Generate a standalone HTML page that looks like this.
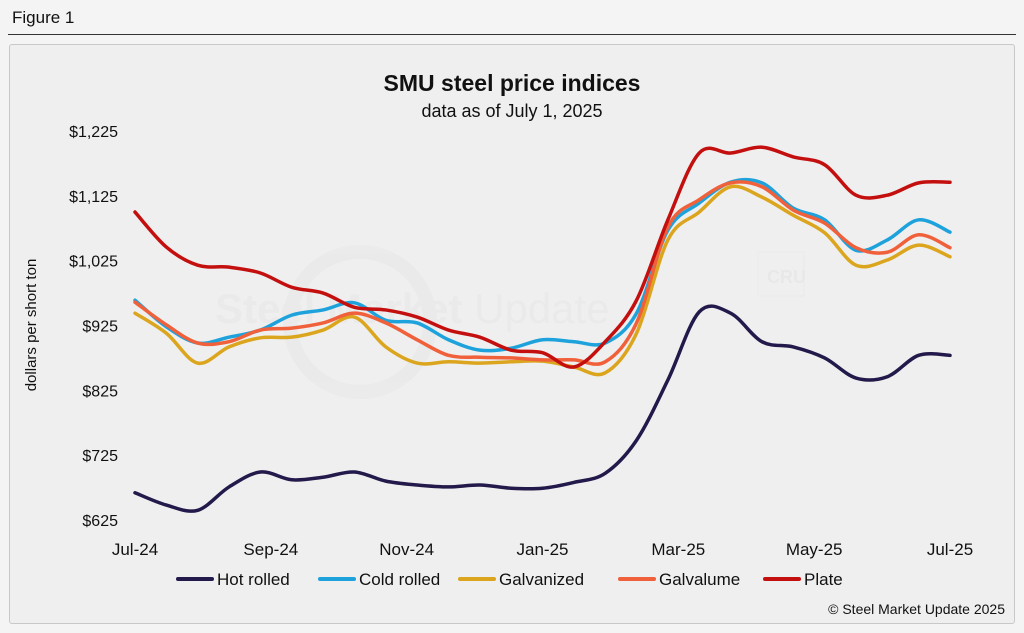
<!DOCTYPE html>
<html><head><meta charset="utf-8">
<style>
body{margin:0;width:1024px;height:633px;background:#f4f4f4;font-family:"Liberation Sans",Arial,sans-serif;overflow:hidden;position:relative}
#fig{position:absolute;left:12px;top:8px;font-size:17px;color:#111}
#rule{position:absolute;left:8px;top:34px;width:1008px;height:1px;background:#333}
#panel{position:absolute;left:9px;top:44px;width:1004px;height:578px;background:#efefef;border:1px solid #c8c8c8;border-radius:3px}
svg{position:absolute;left:0;top:0}
</style></head><body>
<div id="fig">Figure 1</div>
<div id="rule"></div>
<div id="panel"></div>
<svg id="chart" width="1024" height="633">
<g opacity="0.3">
<circle cx="360" cy="322" r="70" fill="none" stroke="#e0e0e0" stroke-width="14"/>
<text x="215" y="323" font-size="42" font-weight="bold" fill="#e0e0e0">Steel Market <tspan font-weight="normal">Update</tspan></text>
<rect x="758" y="252" width="46" height="44" fill="none" stroke="#e0e0e0"/>
<text x="767" y="283" font-size="18" font-weight="bold" fill="#dadada">CRU</text>
</g>
<text x="512" y="91" text-anchor="middle" font-size="23" font-weight="bold" fill="#111">SMU steel price indices</text>
<text x="512" y="117" text-anchor="middle" font-size="18" fill="#111">data as of July 1, 2025</text>
<text transform="translate(36,325) rotate(-90)" text-anchor="middle" font-size="15" fill="#111">dollars per short ton</text>
<g id="yt"></g><g id="xt"></g><g id="lines"></g><g id="legend"></g>
<text x="1005" y="614" text-anchor="end" font-size="14" fill="#111">© Steel Market Update 2025</text>
</svg>
<script>
const xLabels=["Jul-24","Sep-24","Nov-24","Jan-25","Mar-25","May-25","Jul-25"];
const yTicks=[625,725,825,925,1025,1125,1225];
const seriesNames=["Hot rolled","Cold rolled","Galvanized","Galvalume","Plate"];
const seriesColors=["#23194a","#1ea2dc","#dca51e","#f0603a","#c40f0f"];
const hotRolled=[667,648,640,676,699,687,691,699,685,679,676,679,674,674,683,697,748,841,946,944,900,892,875,844,846,879,879];
const coldRolled=[964,923,898,907,918,941,949,960,933,929,903,887,890,903,900,898,944,1072,1114,1146,1145,1106,1088,1041,1057,1088,1069];
const galvanized=[944,913,867,892,906,907,918,938,892,867,869,867,869,870,861,852,913,1057,1100,1139,1123,1095,1068,1018,1026,1049,1031];
const galvalume=[961,926,898,900,918,921,929,944,929,903,879,876,875,872,872,869,929,1077,1119,1145,1139,1103,1083,1045,1038,1065,1045];
const plate=[1100,1046,1018,1015,1006,984,975,953,949,938,918,907,887,883,861,900,964,1088,1191,1191,1200,1185,1173,1126,1126,1145,1146];
const data=[hotRolled,coldRolled,galvanized,galvalume,plate];
const NS="http://www.w3.org/2000/svg";
const x0=135,x1=950,yTop=131,yBot=520,vMin=625,vMax=1225;
const X=i=>x0+(x1-x0)*i/(hotRolled.length-1);
const XL=i=>x0+(x1-x0)*i/(xLabels.length-1);
const Y=v=>yBot-(v-vMin)/(vMax-vMin)*(yBot-yTop);
function mk(tag,attrs,parent){const e=document.createElementNS(NS,tag);for(const k in attrs)e.setAttribute(k,attrs[k]);parent.appendChild(e);return e;}
const yt=document.getElementById('yt');
yTicks.forEach(v=>{const t=mk('text',{x:118,y:Y(v)+6,'text-anchor':'end','font-size':16,fill:'#111'},yt);t.textContent='$'+v.toLocaleString('en-US');

});
const xt=document.getElementById('xt');
xLabels.forEach((l,i)=>{const t=mk('text',{x:XL(i),y:555,'text-anchor':'middle','font-size':17,fill:'#111'},xt);t.textContent=l;

});
function smooth(pts){let d='M'+pts[0][0]+','+pts[0][1];for(let i=0;i<pts.length-1;i++){const p0=pts[Math.max(0,i-1)],p1=pts[i],p2=pts[i+1],p3=pts[Math.min(pts.length-1,i+2)];
d+=' C'+(p1[0]+(p2[0]-p0[0])/6)+','+(p1[1]+(p2[1]-p0[1])/6)+' '+(p2[0]-(p3[0]-p1[0])/6)+','+(p2[1]-(p3[1]-p1[1])/6)+' '+p2[0]+','+p2[1];}return d;}
const lg=document.getElementById('lines');
data.forEach((s,k)=>{const p=mk('path',{d:smooth(s.map((v,i)=>[X(i),Y(v)])),fill:'none',stroke:seriesColors[k],'stroke-width':3.5,'stroke-linejoin':'round','stroke-linecap':'round'},lg);

});
const leg=document.getElementById('legend');
const legX=[178,320,460,620,765];
seriesNames.forEach((n,k)=>{const g=mk('g',{},leg);


mk('line',{x1:legX[k],x2:legX[k]+34,y1:579,y2:579,stroke:seriesColors[k],'stroke-width':4,'stroke-linecap':'round'},g);
const t=mk('text',{x:legX[k]+39,y:585,'font-size':17,fill:'#111'},g);t.textContent=n;});
</script>
</body></html>
